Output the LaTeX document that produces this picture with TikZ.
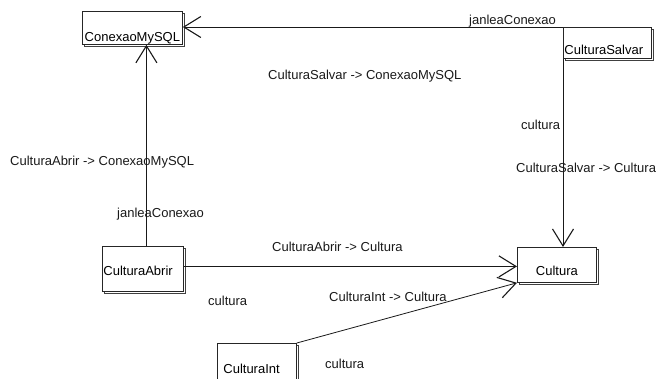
\documentclass[tikz,border=0pt]{standalone}
\usepackage{fontspec}
\setmainfont{Liberation Sans}
\usetikzlibrary{arrows.meta,shadows}
\begin{document}
\begin{tikzpicture}[x=1pt,y=-1pt,
  font=\fontsize{13pt}{15pt}\selectfont,
  cls/.style={draw=black!85, fill=white, line width=0.8pt, inner ysep=0pt,
    anchor=north west,
    general shadow={shadow xshift=2pt, shadow yshift=-2pt,
      draw=black!75, fill=white, line width=0.6pt}},
  role/.style={anchor=base west, inner sep=0pt, text=black!90},
  link/.style={draw=black!90, line width=0.8pt},
  nav/.style={link, -{Straight Barb[length=17pt,width=21pt,line width=1.1pt]}},
]
\useasboundingbox (0,0) rectangle (660,379);

% classes
\node[cls, inner xsep=1pt, text width=98pt, align=center,
      text height=30pt, text depth=3pt] (conexao) at (82,11) {ConexaoMySQL};
\node[cls, inner xsep=1pt, text width=86pt, align=left,
      text height=27pt, text depth=4pt] (csalvar) at (563,27) {CulturaSalvar};
\node[cls, inner xsep=1pt, text width=79pt, align=left,
      text height=29pt, text depth=16pt] (cabrir) at (102,246) {CulturaAbrir};
\node[cls, inner xsep=1pt, text width=77pt, align=center,
      text height=28pt, text depth=7pt] (cultura) at (517,247) {Cultura};
\node[cls, inner xsep=6pt, text width=67pt, align=left,
      text height=30pt, text depth=10pt] (cint) at (217,343) {CulturaInt};

% associations
\draw[nav] (csalvar.north west) -- (csalvar.north west -| conexao.east);
\draw[nav] (csalvar.south west) -- (csalvar.south west |- cultura.north);
\draw[nav] ([xshift=3.5pt]cabrir.north) -- ([xshift=3.5pt]cabrir.north |- conexao.south);
\draw[nav] ([yshift=2.5pt]cabrir.east) -- ([yshift=2.5pt]cabrir.east -| cultura.west);
\draw[nav] (cint.north east) -- (cultura.south west);

% association names and role names
\node[role] (r1) at (469,25) {janleaConexao};
\node[role] (a1) at (268,80) {CulturaSalvar -> ConexaoMySQL};
\node[role] (r2) at (521,130) {cultura};
\node[role] (a2) at (516,173) {CulturaSalvar -> Cultura};
\node[role] (a3) at (10,166) {CulturaAbrir -> ConexaoMySQL};
\node[role] (r3) at (117,218) {janleaConexao};
\node[role] (a4) at (272,251) {CulturaAbrir -> Cultura};
\node[role] (r4) at (208,305) {cultura};
\node[role] (a5) at (329,301) {CulturaInt -> Cultura};
\node[role] (r5) at (325,368) {cultura};
\end{tikzpicture}
\end{document}
